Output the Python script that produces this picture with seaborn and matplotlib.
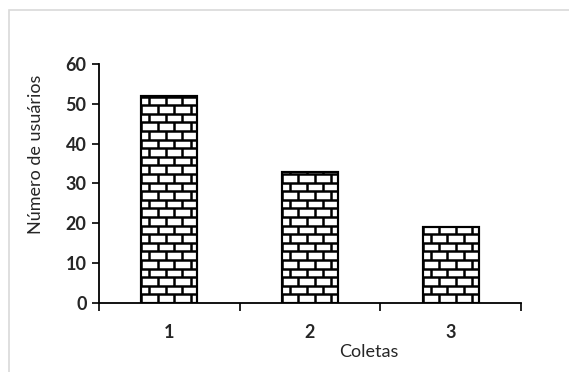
import numpy as np
import pandas as pd
import seaborn as sns
import matplotlib.pyplot as plt
from matplotlib.collections import LineCollection
from matplotlib.patches import Rectangle

coletas = ['1', '2', '3']
usuarios = [52, 33, 19]

df = pd.DataFrame({'Coletas': coletas, 'Usuarios': usuarios})

sns.set_style("white")
plt.rcParams['font.family'] = ['Lato', 'DejaVu Sans']

fig = plt.figure(figsize=(5.69, 3.72), dpi=100)
ax = fig.add_axes([0.174, 0.1855, 0.7417, 0.6425])

# light gray outer frame like the office chart area
fig.patches.append(Rectangle((9 / 569, -0.1), 1.2, 1 - 10 / 372 + 0.1, transform=fig.transFigure,
                             fill=False, edgecolor='#d9d9d9', linewidth=1.2))

sns.barplot(data=df, x='Coletas', y='Usuarios', color='white', edgecolor='black',
            linewidth=1.5, width=0.4, saturation=1, ax=ax)

ax.set_xlim(-0.5, 2.5)
ax.set_ylim(0, 60)
ax.set_yticks(range(0, 61, 10))

# brick pattern inside each bar, clipped to it
row_h = 8.6 * 60 / 239      # data units
brick_w = 16.5 * 3 / 422
for bar in ax.patches:
    x0, y0 = bar.get_x(), bar.get_y()
    w, h = bar.get_width(), bar.get_height()
    segs = []
    nrows = int(np.ceil(h / row_h))
    for r in range(nrows + 1):
        yb = y0 + r * row_h
        segs.append([(x0, yb), (x0 + w, yb)])
        off = 0 if r % 2 == 0 else brick_w / 2
        xv = x0 + off
        while xv < x0 + w:
            segs.append([(xv, yb), (xv, yb + row_h)])
            xv += brick_w
    lc = LineCollection(segs, colors='black', linewidths=1.8)
    ax.add_collection(lc)
    lc.set_clip_path(bar)
    bar.set_zorder(1)
    lc.set_zorder(2)
    # redraw the outline on top
    ax.add_patch(Rectangle((x0, y0), w, h, fill=False, edgecolor='black', linewidth=1.5, zorder=3))

for s in ['top', 'right']:
    ax.spines[s].set_visible(False)
for s in ['left', 'bottom']:
    ax.spines[s].set_color('black')
    ax.spines[s].set_linewidth(1.3)

ax.set_xticks([-0.5, 0.5, 1.5, 2.5], minor=True)
ax.tick_params(axis='x', which='minor', direction='out', length=6, width=1.2, color='black', bottom=True)
ax.tick_params(axis='x', which='major', length=0, pad=15, labelsize=13)
ax.tick_params(axis='y', direction='out', length=5, width=1.2, color='black', left=True, labelsize=13, pad=4)
for lab in ax.get_xticklabels() + ax.get_yticklabels():
    lab.set_fontweight('bold')

ax.set_xlabel('Coletas', fontsize=13)
ax.set_ylabel('Número de usuários', fontsize=13)
ax.xaxis.set_label_coords(0.64, -0.17)
ax.yaxis.set_label_coords(-0.13, 0.62)

fig.savefig('out.png', dpi=100)
